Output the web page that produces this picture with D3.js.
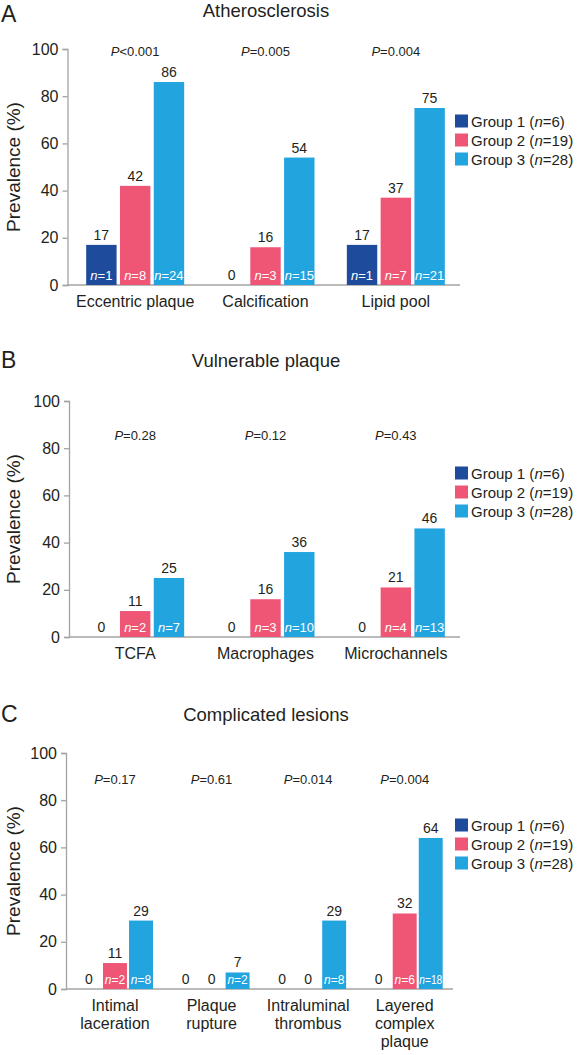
<!DOCTYPE html>
<html><head><meta charset="utf-8">
<script src="https://cdn.jsdelivr.net/npm/d3@7"></script>
<style>
html,body{margin:0;padding:0;background:#fff;}
svg{display:block;font-family:"Liberation Sans",Arial,Helvetica,sans-serif;}
</style></head>
<body>
<svg id="chart" width="580" height="1055"></svg>
<script>
// ---------- data ----------
const groupNames = ["Group 1", "Group 2", "Group 3"];
const groupN = [6, 19, 28];
const groupColors = ["#1f4b9c", "#ef5676", "#22a4df"];
const yTicks = [0, 20, 40, 60, 80, 100];

const titleA = "Atherosclerosis";
const catsA = ["Eccentric plaque", "Calcification", "Lipid pool"];
const g1A = [17, 0, 17];
const g2A = [42, 16, 37];
const g3A = [86, 54, 75];
const n1A = [1, 0, 1];
const n2A = [8, 3, 7];
const n3A = [24, 15, 21];
const pA = ["<0.001", "=0.005", "=0.004"];

const titleB = "Vulnerable plaque";
const catsB = ["TCFA", "Macrophages", "Microchannels"];
const g1B = [0, 0, 0];
const g2B = [11, 16, 21];
const g3B = [25, 36, 46];
const n1B = [0, 0, 0];
const n2B = [2, 3, 4];
const n3B = [7, 10, 13];
const pB = ["=0.28", "=0.12", "=0.43"];

const titleC = "Complicated lesions";
const catsC = ["Intimal|laceration", "Plaque|rupture", "Intraluminal|thrombus", "Layered|complex|plaque"];
const g1C = [0, 0, 0, 0];
const g2C = [11, 0, 0, 32];
const g3C = [29, 7, 29, 64];
const n1C = [0, 0, 0, 0];
const n2C = [2, 0, 0, 6];
const n3C = [8, 2, 8, 18];
const pC = ["=0.17", "=0.61", "=0.014", "=0.004"];

// ---------- drawing ----------
const svg = d3.select("#chart");
const TXT = "#231f20";
const AX = "#a3a3a3";

function panel(cfg) {
  const g = svg.append("g");
  const y = d3.scaleLinear().domain([0, 100]).range([cfg.y0, cfg.y100]);
  const x0 = d3.scaleBand().domain(cfg.cats).range(cfg.xr).padding(0);
  const x1 = d3.scaleBand().domain(groupNames).range([-cfg.gw / 2, cfg.gw / 2]).paddingInner(cfg.pin).paddingOuter(0);
  const bw = x1.bandwidth();

  // panel letter & title
  g.append("text").attr("x", 1).attr("y", cfg.letterY).attr("font-size", 23).attr("fill", TXT).text(cfg.letter);
  g.append("text").attr("x", 266).attr("y", cfg.titleY).attr("text-anchor", "middle").attr("font-size", 18.5).attr("fill", TXT).text(cfg.title);

  // y axis
  const ya = g.append("g").attr("transform", `translate(${cfg.ax},0)`)
    .call(d3.axisLeft(y).tickValues(yTicks).tickSize(5).tickPadding(4));
  ya.select(".domain").attr("stroke", AX).attr("stroke-width", 1.3);
  ya.selectAll(".tick line").attr("stroke", AX).attr("stroke-width", 1.3);
  ya.selectAll(".tick text").attr("font-size", 16).attr("fill", TXT).attr("font-family", "Liberation Sans, Arial, sans-serif");

  // y label
  g.append("text").attr("transform", `translate(20,${(cfg.y0 + cfg.y100) / 2}) rotate(-90)`)
    .attr("text-anchor", "middle").attr("font-size", 19).attr("fill", TXT).text("Prevalence (%)");

  // x axis line
  g.append("line").attr("x1", cfg.ax).attr("x2", cfg.xend).attr("y1", cfg.y0).attr("y2", cfg.y0)
    .attr("stroke", AX).attr("stroke-width", 1.3);

  // bars
  const series = [cfg.g1, cfg.g2, cfg.g3];
  const ns = [cfg.n1, cfg.n2, cfg.n3];
  cfg.cats.forEach((c, ci) => {
    const cx = x0(c) + x0.bandwidth() / 2;
    groupNames.forEach((gn, gi) => {
      const v = series[gi][ci];
      const bx = cx + x1(gn);
      const mid = bx + bw / 2;
      if (v > 0) {
        g.append("rect").attr("x", bx).attr("y", y(v)).attr("width", bw).attr("height", y(0) - y(v))
          .attr("fill", groupColors[gi]);
        g.append("text").attr("x", mid).attr("y", y(v) - 5).attr("text-anchor", "middle")
          .attr("font-size", 14).attr("fill", TXT).text(v);
        const t = g.append("text").attr("x", mid).attr("y", cfg.y0 - 5).attr("text-anchor", "middle")
          .attr("font-size", cfg.nfs).attr("fill", "#fff");
        t.append("tspan").attr("font-style", "italic").text("n");
        t.append("tspan").text("=" + ns[gi][ci]);
        const len = t.node().getComputedTextLength();
        if (len > bw - 1) t.attr("textLength", bw - 1).attr("lengthAdjust", "spacingAndGlyphs");
      } else {
        g.append("text").attr("x", mid).attr("y", cfg.y0 - 5).attr("text-anchor", "middle")
          .attr("font-size", 14).attr("fill", TXT).text(v);
      }
    });
    // P value
    const pt = g.append("text").attr("x", cx).attr("y", cfg.pY).attr("text-anchor", "middle")
      .attr("font-size", 13).attr("fill", TXT);
    pt.append("tspan").attr("font-style", "italic").text("P");
    pt.append("tspan").text(cfg.p[ci]);
    // category label
    const lines = c.split("|");
    const ct = g.append("text").attr("text-anchor", "middle").attr("font-size", 16).attr("fill", TXT);
    lines.forEach((ln, li) => {
      ct.append("tspan").attr("x", cx).attr("y", cfg.y0 + 22 + li * 18).text(ln);
    });
  });

  // legend
  groupNames.forEach((gn, gi) => {
    const cy = cfg.y0 - 164 + gi * 19;
    g.append("rect").attr("x", 455).attr("y", cy - 6.5).attr("width", 13).attr("height", 13).attr("fill", groupColors[gi]);
    const lt = g.append("text").attr("x", 471).attr("y", cy + 5.5).attr("font-size", 15).attr("fill", TXT);
    lt.append("tspan").text(gn + " (");
    lt.append("tspan").attr("font-style", "italic").text("n");
    lt.append("tspan").text("=" + groupN[gi] + ")");
  });
}

panel({letter: "A", title: titleA, letterY: 22, titleY: 17, y0: 285, y100: 49, ax: 67.5, xr: [70, 461], xend: 460,
  gw: 98, pin: 0.1, nfs: 13, pY: 56, cats: catsA, g1: g1A, g2: g2A, g3: g3A, n1: n1A, n2: n2A, n3: n3A, p: pA});
panel({letter: "B", title: titleB, letterY: 368, titleY: 367, y0: 637, y100: 401, ax: 69, xr: [70, 461], xend: 460,
  gw: 98, pin: 0.1, nfs: 13, pY: 440, cats: catsB, g1: g1B, g2: g2B, g3: g3B, n1: n1B, n2: n2B, n3: n3B, p: pB});
panel({letter: "C", title: titleC, letterY: 722, titleY: 721, y0: 989, y100: 753, ax: 66, xr: [66.7, 453], xend: 453,
  gw: 76, pin: 0.08, nfs: 12, pY: 784, cats: catsC, g1: g1C, g2: g2C, g3: g3C, n1: n1C, n2: n2C, n3: n3C, p: pC});
</script>
</body></html>
